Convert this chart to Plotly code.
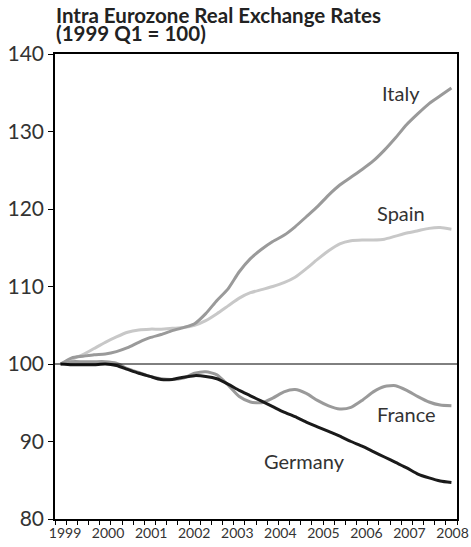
import plotly.graph_objects as go
import numpy as np

quarters = [f"{y}Q{q}" for y in range(1999, 2008) for q in range(1, 5)]
year_labels = [str(y) for y in range(1999, 2009)]

italy = [100.0, 100.8, 101.0, 101.2, 101.3, 101.6, 102.1, 102.8, 103.4, 103.8, 104.3, 104.7,
         105.2, 106.5, 108.2, 109.7, 111.9, 113.6, 114.8, 115.8, 116.6, 117.7, 119.0, 120.3,
         121.8, 123.1, 124.1, 125.1, 126.2, 127.6, 129.2, 130.9, 132.3, 133.6, 134.6, 135.6]
spain = [100.0, 100.6, 101.2, 102.0, 102.8, 103.5, 104.1, 104.4, 104.5, 104.5, 104.6, 104.7,
         105.0, 105.6, 106.5, 107.5, 108.5, 109.2, 109.6, 110.0, 110.5, 111.2, 112.3, 113.5,
         114.6, 115.5, 115.9, 116.0, 116.0, 116.1, 116.5, 116.9, 117.2, 117.5, 117.6, 117.4]
france = [100.0, 100.3, 100.3, 100.3, 100.3, 100.1, 99.4, 98.9, 98.4, 98.1, 98.0, 98.2,
          98.8, 99.0, 98.6, 97.3, 95.8, 95.1, 95.0, 95.6, 96.4, 96.7, 96.2, 95.3,
          94.6, 94.2, 94.4, 95.3, 96.4, 97.1, 97.2, 96.6, 95.8, 95.1, 94.7, 94.6]
germany = [100.0, 99.9, 99.9, 99.9, 100.0, 99.8, 99.3, 98.8, 98.4, 98.0, 98.0, 98.3,
           98.5, 98.4, 98.1, 97.4, 96.6, 95.9, 95.2, 94.5, 93.8, 93.2, 92.5, 91.9,
           91.3, 90.7, 90.0, 89.4, 88.7, 88.0, 87.3, 86.6, 85.8, 85.3, 84.9, 84.7]

x = np.arange(len(quarters)) + 0.5
FONT = "Lato"
TXT = "#333333"

series = [
    ("Spain", spain, "#c8c8c8"),
    ("Italy", italy, "#9a9a9a"),
    ("France", france, "#9a9a9a"),
    ("Germany", germany, "#1a1a1a"),
]

fig = go.Figure()
for name, vals, col in series:
    fig.add_trace(go.Scatter(x=x, y=vals, mode="lines", name=name,
                             line=dict(color=col, width=3, shape="spline", smoothing=0.6),
                             customdata=quarters, hoverinfo="skip"))

fig.add_hline(y=100, line=dict(color="black", width=1))

labels = [("Italy", 30.95, 135.0), ("Spain", 31.0, 119.5), ("France", 31.5, 93.5), ("Germany", 22.3, 87.5)]
for t, lx, ly in labels:
    fig.add_annotation(x=lx, y=ly, text=t, showarrow=False,
                       font=dict(family=FONT, size=20, color=TXT))

title_lines = ["Intra Eurozone Real Exchange Rates", "(1999 Q1 = 100)"]
title_centers = [15.0, 33.0]
for line, cy in zip(title_lines, title_centers):
    fig.add_annotation(xref="paper", yref="paper", x=0, y=1.0, xanchor="left", yanchor="middle",
                       xshift=-1, yshift=54 - cy, showarrow=False, text=f"<b>{line}</b>",
                       font=dict(family=FONT, size=20.5, color="#222222"))

label_pos = np.linspace(0.9, 35.6, len(year_labels))

fig.update_layout(
    width=471, height=547,
    margin=dict(l=55, r=14, t=54, b=28),
    paper_bgcolor="white", plot_bgcolor="white",
    showlegend=False,
    font=dict(family=FONT, color=TXT),
    xaxis=dict(range=[0, 36], tickmode="array", tickvals=label_pos, ticktext=year_labels,
               ticks="", showgrid=False, zeroline=False, showline=True, linecolor="black",
               linewidth=1.5, mirror=True, automargin=False,
               tickfont=dict(family="Liberation Sans Narrow, Lato", size=14, color=TXT),
               minor=dict(tickmode="linear", tick0=0, dtick=1, ticks="outside", ticklen=4,
                          tickcolor="black", showgrid=False)),
    yaxis=dict(range=[80, 140], tickmode="linear", tick0=80, dtick=10, ticks="outside",
               ticklen=5, tickcolor="black", showgrid=False, zeroline=False, showline=True,
               linecolor="black", linewidth=1.5, mirror=True, automargin=False,
               tickfont=dict(size=21, color=TXT)),
)

fig.write_html("out.html", config={"displayModeBar": False},
               post_script="document.body.style.margin='0';")
